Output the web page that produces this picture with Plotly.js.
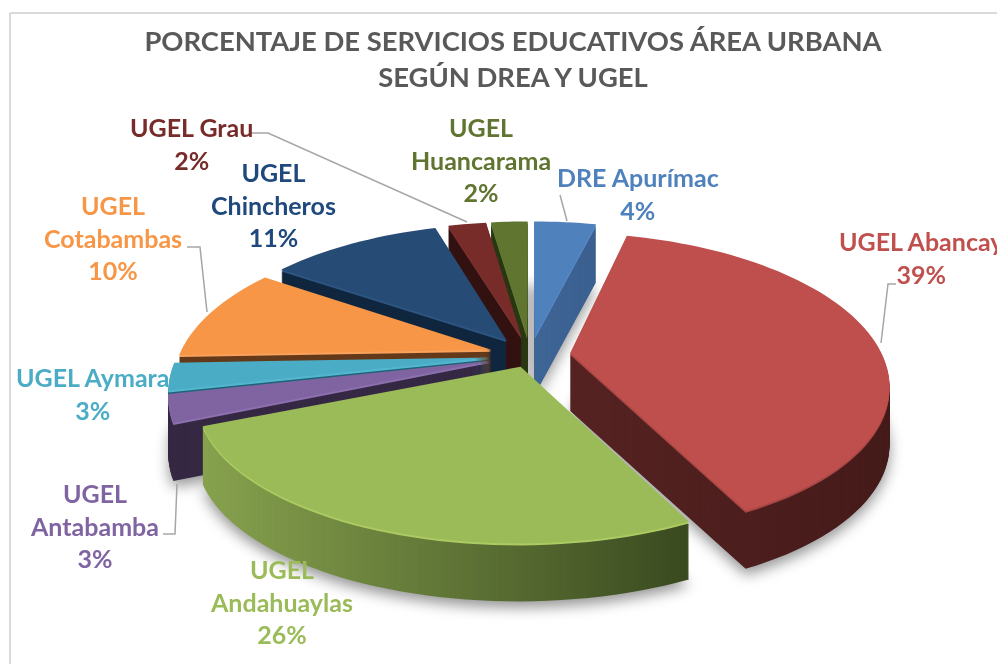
<!DOCTYPE html>
<html>
<head>
<meta charset="utf-8">
<script src="https://cdn.plot.ly/plotly-3.0.1.min.js"></script>
<style>html,body{margin:0;padding:0;background:#fff;overflow:hidden}#chart{width:997px;height:664px}</style>
</head>
<body>
<div id="chart"></div>
<script>
// ---- data ----
const categories = ["DRE Apurímac","UGEL Abancay","UGEL Andahuaylas","UGEL Antabamba","UGEL Aymara","UGEL Cotabambas","UGEL Chincheros","UGEL Grau","UGEL Huancarama"];
const values = [3.9,38.9,25.9,2.9,2.9,10.1,10.8,2.4,2.3];
const labelLines = ["DRE Apurímac","UGEL Abancay","UGEL<br>Andahuaylas","UGEL<br>Antabamba","UGEL Aymara","UGEL<br>Cotabambas","UGEL<br>Chincheros","UGEL Grau","UGEL<br>Huancarama"];
const titleText = "PORCENTAJE DE SERVICIOS EDUCATIVOS ÁREA URBANA<br>SEGÚN DREA Y UGEL";
// ---- styles ----
const faceColors = ["#4F81BD","#BE4F4C","#9BBB59","#8064A2","#4BACC6","#F79646","#264B75","#772C2A","#5F7530"];
const wallLeft  = ["#3F6696","#562322","#87A24E","#352843","#1E6478","#64391A","#10263F","#321211","#2A3813"];
const wallRight = ["#3B6090","#451B1A","#3A4A20","#352843","#1E6478","#64391A","#10263F","#321211","#2A3813"];
const bevelColors = ["#5A8CC8","#A84744","#ACCB62","#8D70B0","#55B6D0","#F9A25C","#2E5682","#7F3432","#67803A"];
const labelColors = ["#4F81BD","#C0504D","#9BBB59","#8064A2","#4BACC6","#F79646","#1F497D","#772C2A","#5F7530"];
const labelPos = [[638,193],[921,258],[281,601],[94,525],[92,393],[113,237],[273,204.5],[191,143],[481,159]];
const leaders = [
  [[560,195],[567,221]],
  [[896,284],[888,284],[881,343]],
  [[163,534],[175,534],[177,484]],
  [[187,247],[200,247],[207,312]],
  [[252,133],[268,133],[467,222]]
];
const pulls = [0.13,0.13,0.085,0.13,0.13,0.13,0.13,0.13,0.13];
const flatten = [1,1,0.94,1,1,1,1,1,1];
const rotationDeg = 0;
const W = 997, H = 664;
// projection of the flat pie into a tilted disc
const proj = {cx:530, cy:355, rx:312, ry:145, t:0.2, depth:58, layers:58};
function project(u,v){const f=1/(1-proj.t*v);return [proj.cx+proj.rx*u*f, proj.cy+proj.ry*v*f];}

const px = x=>x/W, py = y=>1-y/H;
const common = {type:'pie',values:values,labels:categories,sort:false,direction:'clockwise',rotation:rotationDeg,
  pull:pulls,textinfo:'none',hoverinfo:'skip',showlegend:false,
  domain:{x:[0.2,0.8],y:[0.1,0.9]}};
const traces=[];
traces.push(Object.assign({},common,{marker:{colors:values.map(()=>'rgba(0,0,0,0.42)'),line:{width:0}}}));
for(let k=proj.layers;k>=1;k--){
  traces.push(Object.assign({},common,{marker:{colors:(k<=2?bevelColors:wallLeft),line:{width:0}}}));
}
traces.push(Object.assign({},common,{marker:{colors:faceColors,line:{width:0}}}));

const annotations = categories.map((c,i)=>({
  text:'<b>'+labelLines[i]+'<br>'+Math.round(values[i])+'%</b>',
  xref:'paper',yref:'paper',x:px(labelPos[i][0]),y:py(labelPos[i][1]),xanchor:'center',yanchor:'middle',
  showarrow:false,align:'center',font:{family:'Lato, Carlito, sans-serif',size:25,color:labelColors[i]}
}));
const shapes = leaders.map(pts=>({type:'path',xref:'paper',yref:'paper',
  path:pts.map((p,j)=>(j?'L':'M')+px(p[0])+' '+py(p[1])).join(' '),
  line:{color:'#A6A6A6',width:1.5},fillcolor:'rgba(0,0,0,0)'}));
shapes.push({type:'line',xref:'paper',yref:'paper',x0:px(10),x1:px(10),y0:py(13),y1:py(664),line:{color:'#D9D9D9',width:2}});
shapes.push({type:'line',xref:'paper',yref:'paper',x0:px(10),x1:px(997),y0:py(13),y1:py(13),line:{color:'#D9D9D9',width:2}});

const layout = {width:W,height:H,margin:{l:0,r:0,t:0,b:0},paper_bgcolor:'#fff',
  title:{text:'<b>'+titleText+'</b>',x:px(513),xanchor:'center',y:py(51),yanchor:'middle',yref:'container',
    font:{family:'Lato, Carlito, sans-serif',size:27.4,color:'#595959'}},
  annotations:annotations,shapes:shapes};

const gd=document.getElementById('chart');
Plotly.newPlot(gd,traces,layout,{staticPlot:true,displayModeBar:false}).then(()=>{
  const total=values.reduce((a,b)=>a+b,0);
  const dir=f=>{const a=(rotationDeg+f*360)*Math.PI/180;return [Math.sin(a),-Math.cos(a)];};
  // each slice's outline, taken through the tilted-disc projection
  let cum=0;
  const outlines=values.map((v,i)=>{
    const f0=cum/total,f1=(cum+v)/total;cum+=v;
    const m=dir((f0+f1)/2), ap=[m[0]*pulls[i],m[1]*pulls[i]];
    const a0=project(ap[0],ap[1]);
    const pts=[a0];
    const n=Math.max(4,Math.ceil((f1-f0)*180));
    for(let j=0;j<=n;j++){
      const d=dir(f0+(f1-f0)*j/n), q=project(ap[0]+d[0],ap[1]+d[1]);
      pts.push([q[0],a0[1]+(q[1]-a0[1])*flatten[i]]);
    }
    return 'M'+pts.map(p=>p[0].toFixed(2)+','+p[1].toFixed(2)).join('L')+'Z';
  });
  const svg=gd.querySelector('svg.main-svg');
  const NS='http://www.w3.org/2000/svg';
  const defs=svg.querySelector('defs')||svg.insertBefore(document.createElementNS(NS,'defs'),svg.firstChild);
  values.forEach((v,i)=>{
    const g=document.createElementNS(NS,'linearGradient');
    g.setAttribute('id','wall'+i);g.setAttribute('x1','0');g.setAttribute('x2','1');g.setAttribute('y1','0');g.setAttribute('y2','0');
    [[0,wallLeft[i]],[1,wallRight[i]]].forEach(s=>{const st=document.createElementNS(NS,'stop');st.setAttribute('offset',s[0]);st.setAttribute('stop-color',s[1]);g.appendChild(st);});
    defs.appendChild(g);
  });
  const tr=gd.querySelectorAll('.pielayer .trace');
  tr.forEach((t,ti)=>{
    let depth=0;
    if(ti===0){depth=proj.depth+6;t.style.filter='blur(7px)';}
    else if(ti<=proj.layers){depth=proj.depth*(proj.layers-ti+1)/proj.layers;}
    t.querySelectorAll('.slice').forEach((s,i)=>{
      s.setAttribute('transform','translate(0,'+depth+')');
      const p=s.querySelector('path.surface');
      if(p){
        p.setAttribute('d',outlines[i]);
        if(ti>0&&ti<=proj.layers-2)p.style.fill='url(#wall'+i+')';
      }
    });
  });
});
</script>
</body>
</html>
